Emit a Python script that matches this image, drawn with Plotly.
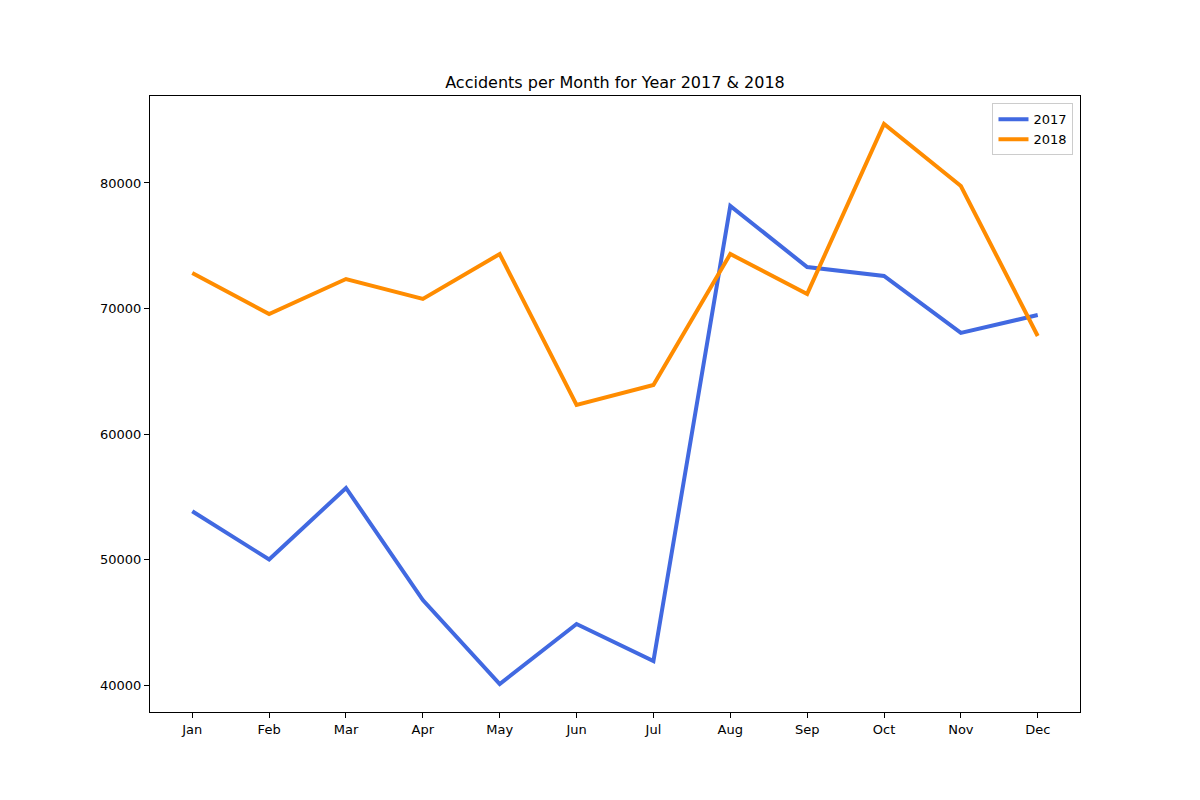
import plotly.graph_objects as go

# Monthly accident counts
months = ['Jan', 'Feb', 'Mar', 'Apr', 'May', 'Jun',
          'Jul', 'Aug', 'Sep', 'Oct', 'Nov', 'Dec']
acc_2017 = [53850, 50000, 55700, 46770, 40080, 44860,
            41910, 78170, 73300, 72590, 68050, 69480]
acc_2018 = [72830, 69560, 72350, 70760, 74340, 62310,
            63900, 74340, 71160, 84700, 79760, 67810]
y_ticks = [40000, 50000, 60000, 70000, 80000]

fig = go.Figure()

fig.add_trace(go.Scatter(
    x=months, y=acc_2017, mode='lines', name='2017',
    line=dict(color='#4169E1', width=4)
))
fig.add_trace(go.Scatter(
    x=months, y=acc_2018, mode='lines', name='2018',
    line=dict(color='#FF8C00', width=4)
))

axis_style = dict(
    showgrid=False, zeroline=False, showline=True, mirror=True,
    linecolor='black', linewidth=1,
    ticks='outside', ticklen=5, tickcolor='black',
    tickfont=dict(size=13, color='black'),
)

# page body adds ~8px offset, so margins are shifted to compensate
fig.update_layout(
    width=1200, height=800,
    margin=dict(l=142, r=128, t=88, b=96),
    paper_bgcolor='white', plot_bgcolor='white',
    font=dict(family='DejaVu Sans', color='black'),
    title=dict(
        text='Accidents per Month for Year 2017 & 2018',
        x=0.5, xref='paper', xanchor='center',
        y=1 - 74 / 800, yref='container', yanchor='middle',
        font=dict(size=16, color='black')
    ),
    xaxis=dict(range=[-0.55, 11.55], **axis_style),
    yaxis=dict(range=[37850, 86930], tickvals=y_ticks,
               tickformat='d', **axis_style),
    legend=dict(
        x=0.993, y=0.988, xanchor='right', yanchor='top',
        bgcolor='white', bordercolor='#cccccc', borderwidth=1,
        tracegroupgap=0,
        font=dict(size=13, color='black')
    ),
)

fig.write_html('out.html')
